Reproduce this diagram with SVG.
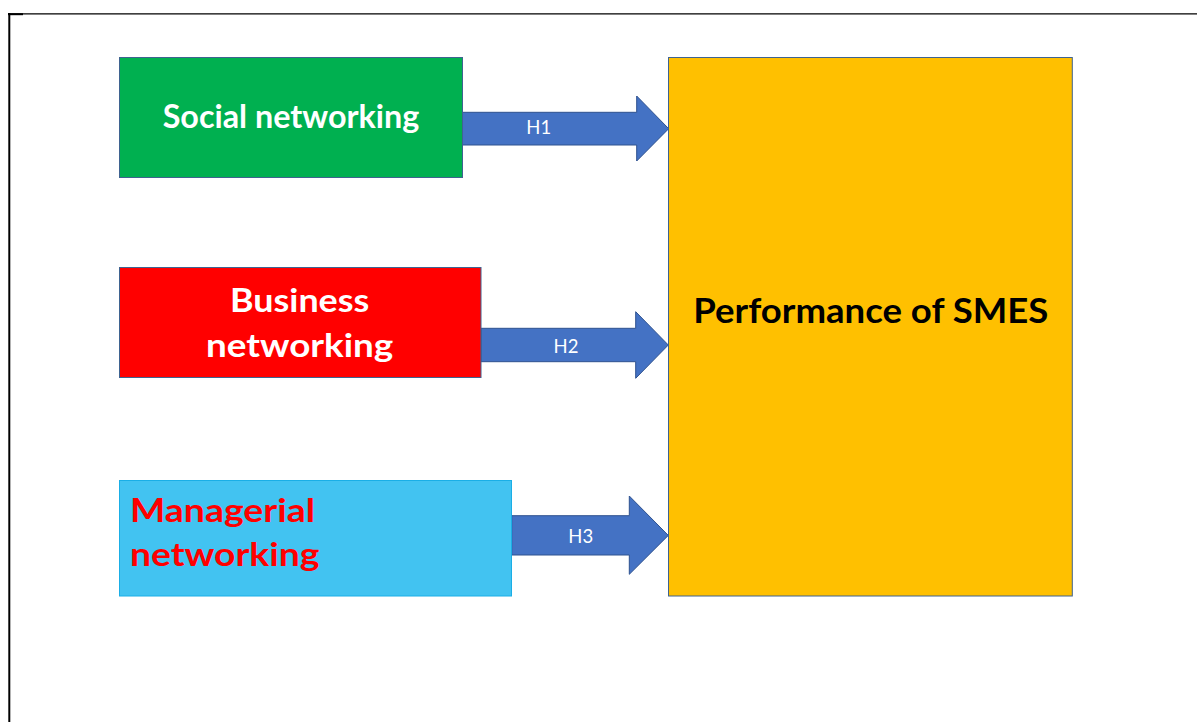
<svg xmlns="http://www.w3.org/2000/svg" width="1197" height="722" viewBox="0 0 1197 722">
  <style>
    .box { stroke: #3F6390; stroke-width: 1; }
    .lbl { font-family: Lato, "Open Sans", "Liberation Sans", sans-serif; font-weight: bold; }
    .arrow { fill: #4472C4; stroke: #2F528F; stroke-width: 1; }
    .h { font-family: Lato, "Open Sans", "Liberation Sans", sans-serif; font-size: 18.5px; fill: #FFFFFF; text-anchor: middle; }
  </style>
  <rect width="1197" height="722" fill="#FFFFFF"/>

  <!-- page frame -->
  <g id="frame" stroke="#000000" fill="none">
    <line x1="8" y1="13.8" x2="1197" y2="13.8" stroke-width="1.3"/>
    <line x1="8" y1="14.2" x2="23" y2="14.2" stroke-width="2"/>
    <line x1="9.3" y1="13" x2="9.3" y2="722" stroke-width="2"/>
  </g>

  <!-- connectors -->
  <g id="connectors">
    <g id="h1">
      <polygon class="arrow" points="462.5,112.3 636.7,112.3 636.7,96 668.7,128.7 636.7,161 636.7,145 462.5,145"/>
      <text class="h" x="538.7" y="134.3">H1</text>
    </g>
    <g id="h2">
      <polygon class="arrow" points="481,328.3 635.7,328.3 635.7,311.7 668.3,345 635.7,378.3 635.7,361.7 481,361.7"/>
      <text class="h" x="566" y="353.3">H2</text>
    </g>
    <g id="h3">
      <polygon class="arrow" points="511.7,515.7 629.3,515.7 629.3,496 668.3,535.4 629.3,574.3 629.3,555 511.7,555"/>
      <text class="h" x="580.7" y="542.7">H3</text>
    </g>
  </g>

  <!-- nodes -->
  <g id="social">
    <rect class="box" x="119.5" y="57.5" width="343" height="120" fill="#00B050"/>
    <text class="lbl" x="162.7" y="127.7" font-size="31.5" fill="#FFFFFF" textLength="256.6" lengthAdjust="spacingAndGlyphs">Social networking</text>
  </g>

  <g id="business">
    <rect class="box" x="119.5" y="267.5" width="361.5" height="110" fill="#FF0000"/>
    <text class="lbl" x="230" y="311.7" font-size="32" fill="#FFFFFF" textLength="139.3" lengthAdjust="spacingAndGlyphs">Business</text>
    <text class="lbl" x="206" y="357" font-size="32" fill="#FFFFFF" textLength="187.3" lengthAdjust="spacingAndGlyphs">networking</text>
  </g>

  <g id="managerial">
    <rect x="119.5" y="480.5" width="392" height="115.5" fill="#42C3F1" stroke="#1AAEE6" stroke-width="1"/>
    <text class="lbl" x="130" y="521.7" font-size="33" fill="#FF0000" textLength="185" lengthAdjust="spacingAndGlyphs">Managerial</text>
    <text class="lbl" x="130" y="566" font-size="33" fill="#FF0000" textLength="189.3" lengthAdjust="spacingAndGlyphs">networking</text>
  </g>

  <g id="performance">
    <rect class="box" x="668.5" y="57.5" width="403.8" height="538.5" fill="#FFC000"/>
    <text class="lbl" x="693.3" y="322.7" font-size="33.5" fill="#000000" textLength="355" lengthAdjust="spacingAndGlyphs">Performance of SMES</text>
  </g>
</svg>
